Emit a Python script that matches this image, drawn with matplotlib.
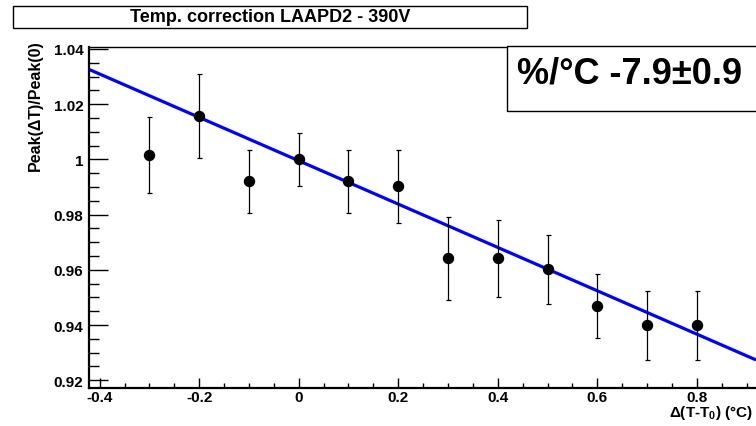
import numpy as np
import matplotlib
matplotlib.use("Agg")
import matplotlib.pyplot as plt
from matplotlib.patches import Rectangle
from matplotlib.ticker import MultipleLocator

plt.rcParams["font.family"] = ["Liberation Sans", "DejaVu Sans"]
plt.rcParams["font.weight"] = "bold"
plt.rcParams["mathtext.fontset"] = "custom"
plt.rcParams["mathtext.rm"] = "Liberation Sans:bold"
plt.rcParams["mathtext.bf"] = "Liberation Sans:bold"

dT     = [-0.3, -0.2, -0.1, 0.0, 0.1, 0.2, 0.3, 0.4, 0.5, 0.6, 0.7, 0.8]
ratio  = [1.0015, 1.0157, 0.9920, 1.0000, 0.9920, 0.9902,
          0.9642, 0.9642, 0.9602, 0.9468, 0.9400, 0.9400]
ratio_err = [0.0138, 0.0152, 0.0113, 0.0097, 0.0113, 0.0132,
             0.0150, 0.0140, 0.0125, 0.0116, 0.0125, 0.0125]

# linear fit  p0 + p1*dT
fit_p0 = 0.9995
fit_p1 = -0.0785
x_range = (-0.4215, 0.919)
y_range = (0.9173, 1.0407)

fig = plt.figure(figsize=(7.56, 4.27), dpi=100)
ax = fig.add_axes([89/756, 38.3/427, 1 - 89/756, 340.7/427])

# fit line over the full axis range
xf = np.array(x_range)
ax.plot(xf, fit_p0 + fit_p1*xf, color="#0000ff", lw=2.3, zorder=2,
        solid_capstyle="butt")

ax.errorbar(dT, ratio, yerr=ratio_err, fmt="o", color="black", ms=7.2,
            ecolor="black", elinewidth=0.9, capsize=1.8, capthick=0.9,
            zorder=3)

ax.set_xlim(*x_range)
ax.set_ylim(*y_range)
ax.xaxis.set_major_locator(MultipleLocator(0.2))
ax.xaxis.set_minor_locator(MultipleLocator(0.05))
ax.yaxis.set_major_locator(MultipleLocator(0.02))
ax.yaxis.set_minor_locator(MultipleLocator(0.005))
ax.xaxis.set_major_formatter(plt.FuncFormatter(lambda v, p: f"{v:g}"))
ax.yaxis.set_major_formatter(plt.FuncFormatter(lambda v, p: f"{v:g}"))

ax.tick_params(axis="x", which="major", direction="in", length=7, width=1,
               labelsize=11, pad=2)
ax.tick_params(axis="x", which="minor", direction="in", length=3.5, width=1)
ax.tick_params(axis="y", which="major", direction="in", length=14, width=1,
               labelsize=11, pad=4)
ax.tick_params(axis="y", which="minor", direction="in", length=7, width=1)
for lab in ax.get_xticklabels() + ax.get_yticklabels():
    lab.set_fontweight("bold")

ax.spines["left"].set_linewidth(1.6)
ax.spines["bottom"].set_linewidth(1.6)
ax.spines["top"].set_linewidth(1.0)
ax.spines["right"].set_visible(False)

fig.text(35/756, 1 - 40/427, "Peak(ΔT)/Peak(0)", rotation=90,
         ha="center", va="top", fontsize=11.5, fontweight="bold")
fig.text(753/756, 1 - 413/427, r"Δ(T-T$_{0}$) (°C)", ha="right",
         va="center", fontsize=11, fontweight="bold")

# title box
fig.patches.append(Rectangle((13/756, 1 - 29/427), 514/756, 22/427,
                             transform=fig.transFigure, fill=False,
                             lw=1, edgecolor="black"))
fig.text(270/756, 1 - 18/427, "Temp. correction LAAPD2 - 390V",
         ha="center", va="center", fontsize=13, fontweight="bold")

# stat box
fig.patches.append(Rectangle((506.5/756, 1 - 112/427), 260/756, 65.3/427,
                             transform=fig.transFigure, facecolor="white",
                             lw=1, edgecolor="black", zorder=5))
fig.text(630/756, 1 - 73.5/427, "%/°C -7.9±0.9", ha="center", va="center",
         fontsize=26, fontweight="bold", zorder=6)

fig.savefig("out.png", dpi=100)
